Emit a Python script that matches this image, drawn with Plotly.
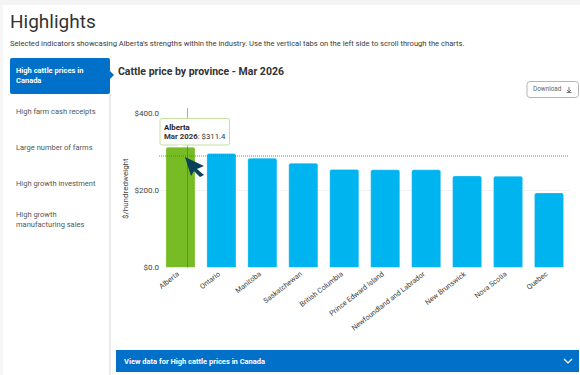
import plotly.graph_objects as go

W, H = 580, 375

provinces = ["Alberta", "Ontario", "Manitoba", "Saskatchewan", "British Columbia",
             "Prince Edward Island", "Newfoundland and Labrador", "New Brunswick",
             "Nova Scotia", "Quebec"]
prices = [311.4, 295, 283, 270, 254, 253, 253, 237, 236, 193]
y_ticks = [0, 200, 400]
y_tick_labels = ["$0.0", "$200.0", "$400.0"]
tabs = ["High cattle prices in<br>Canada", "High farm cash receipts", "Large number of farms",
        "High growth investment", "High growth<br>manufacturing sales"]

BLUE = "#00B5EF"
GREEN = "#77BC25"
NAVY = "#0070C8"
FONT = "Roboto"


def fx(x):
    return x / W


def fy(y):
    return 1 - y / H


def rounded(x0, y0, x1, y1, r):
    """SVG path of a rounded rectangle, in paper coordinates."""
    rx, ry = r / W, r / H
    a, b, c, d = fx(x0), fy(y0), fx(x1), fy(y1)
    return (f"M{a + rx},{b} L{c - rx},{b} Q{c},{b} {c},{b - ry} L{c},{d + ry} Q{c},{d} {c - rx},{d} "
            f"L{a + rx},{d} Q{a},{d} {a},{d + ry} L{a},{b - ry} Q{a},{b} {a + rx},{b} Z")


def poly(points):
    return "M" + " L".join(f"{fx(x)},{fy(y)}" for x, y in points) + " Z"


def rect(x0, y0, x1, y1, fill):
    return dict(type="rect", xref="paper", yref="paper", x0=fx(x0), x1=fx(x1), y0=fy(y0), y1=fy(y1),
                fillcolor=fill, line_width=0, layer="below")


def seg(x0, y0, x1, y1, color, width=1, dash="solid", layer="above"):
    return dict(type="line", xref="paper", yref="paper", x0=fx(x0), x1=fx(x1), y0=fy(y0), y1=fy(y1),
                line=dict(color=color, width=width, dash=dash), layer=layer)


def path(d, fill, line="rgba(0,0,0,0)", width=0, layer="above"):
    return dict(type="path", xref="paper", yref="paper", path=d, fillcolor=fill,
                line=dict(color=line, width=width), layer=layer)


def label(x, y, text, size, color="#333333", anchor="left", **kw):
    # annotations carry about 2px of internal padding, taken back here
    return dict(xref="paper", yref="paper", x=fx(x - 2), y=fy(y), text=text, showarrow=False,
                xanchor=anchor, yanchor="middle", align="left",
                font=dict(family=FONT, size=size, color=color), **kw)


fig = go.Figure(go.Bar(
    x=provinces, y=prices,
    marker=dict(color=[GREEN] + [BLUE] * (len(provinces) - 1), cornerradius=2,
                line=dict(color="rgba(255,255,255,0.25)", width=1)),
    hoverinfo="skip",
))

shapes = [
    # page frame
    rect(0, 0, 580, 5, "#F4F4F4"),
    rect(0, 5, 3, 375, "#F6F6F6"),
    rect(109.5, 94, 110.5, 375, "#D8D8D8"),
    # active tab
    path(rounded(10, 58, 110, 94, 2), NAVY, layer="below"),
    path(poly([(110, 71), (114, 75), (110, 79)]), NAVY, layer="below"),
    # download button
    path(rounded(527, 81.5, 578.5, 97.5, 3), "#FFFFFF", "#B5B5B5", 1, layer="below"),
    seg(569, 92, 569, 87, "#777777"),
    seg(566.5, 92.5, 571.5, 92.5, "#777777"),
    seg(567, 90, 569, 92, "#777777"),
    seg(571, 90, 569, 92, "#777777"),
    # data panel bar
    rect(116, 350, 579, 372, NAVY),
    seg(564, 359, 568, 363, "#FFFFFF", 1.3),
    seg(568, 363, 572, 359, "#FFFFFF", 1.3),
    # crosshair
    seg(187.5, 108, 187.5, 267.5, "rgba(60,90,40,0.45)", 1),
    seg(159, 156, 569, 156, "#666666", 0.8, "1px,1px"),
    # tooltip
    path(rounded(160, 118.5, 229.5, 145, 2), "rgba(255,255,255,0.97)", "#C4E0A0", 1),
    path(poly([(177, 145), (180, 147.5), (183, 145)]), "#FFFFFF"),
    # pointer arrow
    path(poly([(185, 157), (204, 166), (197, 169), (204, 175), (200, 177), (194, 171), (191, 176)]),
         "#0B4257"),
]

annotations = [
    label(10, 21, "Highlights", 19, "#333333"),
    label(10, 43, "Selected indicators showcasing Alberta's strengths within the industry. "
                  "Use the vertical tabs on the left side to scroll through the charts.", 7.6, "#3A3A3A"),
    label(16, 75.5, "<b>" + tabs[0] + "</b>", 7.5, "#FFFFFF"),
    label(16, 111, tabs[1], 7.5, "#555555"),
    label(16, 147, tabs[2], 7.5, "#555555"),
    label(16, 183, tabs[3], 7.5, "#555555"),
    label(16, 219.5, tabs[4], 7.5, "#555555"),
    label(117.5, 71, "<b>Cattle price by province - Mar 2026</b>", 10.5, "#333333"),
    label(533, 88.5, "Download", 6.4, "#666666"),
    label(164, 128, "<b>Alberta</b>", 7.8, "#222222"),
    label(164, 137, "<b>Mar 2026</b>: $311.4", 7.8, "#333333"),
    label(123.5, 361, "<b>View data for High cattle prices in Canada</b>", 7.5, "#FFFFFF"),
    # vertical axis title, placed by hand so it can sit above the axis midpoint
    dict(xref="paper", yref="paper", x=fx(125), y=fy(188), text="$/hundredweight", textangle=-90,
         showarrow=False, xanchor="center", yanchor="middle",
         font=dict(family=FONT, size=8, color="#444444")),
]

fig.update_layout(
    width=W, height=H, margin=dict(l=0, r=0, t=0, b=0), autosize=False,
    paper_bgcolor="#FFFFFF", plot_bgcolor="#FFFFFF", showlegend=False,
    bargap=0.29, shapes=shapes, annotations=annotations,
    font=dict(family=FONT),
    xaxis=dict(domain=[fx(160), fx(569.5)], showgrid=False, zeroline=False, showline=False,
               ticks="", tickangle=-38, ticklabelshift=-3, ticklabelstandoff=0,
               tickfont=dict(family=FONT, size=7.2, color="#444444"),
               automargin=False, fixedrange=True),
    yaxis=dict(domain=[fy(267.5), fy(113)], range=[0, 400], tickvals=y_ticks, ticktext=y_tick_labels,
               gridcolor="#F2F2F2", gridwidth=1, zeroline=False, ticks="", showline=False,
               tickfont=dict(family=FONT, size=8, color="#444444"), automargin=False, fixedrange=True),
)

fig.write_html("out.html", config=dict(displayModeBar=False))
